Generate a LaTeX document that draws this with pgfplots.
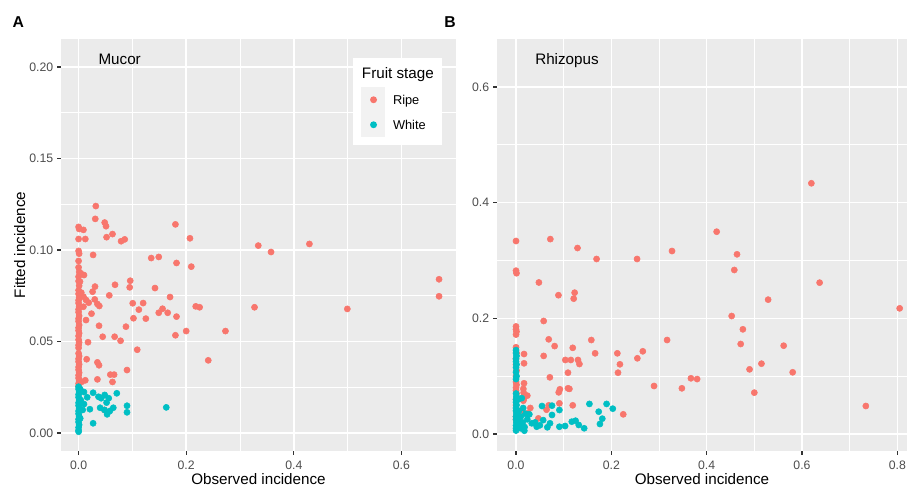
\documentclass[border=0pt]{standalone}
\usepackage{fontspec}
\setmainfont{Liberation Sans}
\usepackage{pgfplots}
\pgfplotsset{compat=1.18}
\definecolor{ripe}{HTML}{F8766D}
\definecolor{whitec}{HTML}{00BFC4}
\definecolor{panelbg}{HTML}{EBEBEB}
\definecolor{keybg}{HTML}{F2F2F2}
\definecolor{tickc}{HTML}{333333}
\definecolor{labc}{HTML}{4D4D4D}
\pgfplotsset{ggstyle/.style={
  scale only axis, height=309pt,
  axis background/.style={fill=panelbg},
  axis line style={draw=none},
  xmajorgrids, ymajorgrids, xminorgrids, yminorgrids,
  major grid style={white, line width=1.1pt},
  minor grid style={white, line width=0.55pt},
  tick align=outside, xtick pos=bottom, ytick pos=left,
  major tick length=2.85pt, minor tick length=0pt,
  major tick style={tickc, line width=1pt},
  tick label style={font=\fontsize{9.2}{11}\selectfont, text=labc, inner sep=0pt},
  yticklabel style={xshift=-2.8pt},
  xticklabel style={yshift=-4.5pt},
  label style={font=\fontsize{11.4}{13}\selectfont},
  clip mode=individual,
}}
\begin{document}
\begin{tikzpicture}
\useasboundingbox (0,0) rectangle (681.75pt,364.5pt);
\begin{axis}[ggstyle, at={(45.75pt,26.25pt)}, anchor=south west, width=296.25pt,
  xmin=-0.0327, xmax=0.7015, ymin=-0.00984, ymax=0.2153,
  xtick={0,0.2,0.4,0.6}, xticklabels={0.0,0.2,0.4,0.6},
  minor xtick={0.1,0.3,0.5},
  ytick={0,0.05,0.1,0.15,0.2}, yticklabels={0.00,0.05,0.10,0.15,0.20},
  minor ytick={0.025,0.075,0.125,0.175},
  xlabel={Observed incidence}, ylabel={Fitted incidence},
  xlabel style={at={(axis description cs:0.5,-0.0801)}, anchor=base},
  ylabel style={at={(axis description cs:-0.0911,0.5)}, anchor=base},
  legend style={at={(axis description cs:0.7595,0.8835)}, anchor=north west,
    draw=none, fill=none, inner sep=0pt, row sep=0pt,
    nodes={inner sep=0pt, text depth=0pt},
    font=\fontsize{9.6}{11}\selectfont},
  legend cell align=left,
]
\addplot[only marks, color=ripe, mark=*, mark size=2.3pt, mark options={fill=ripe, draw=ripe, line width=0.4pt},
  legend image code/.code={\fill[keybg, draw=none] (0pt,-9.375pt) rectangle (18pt,9.375pt);
    \fill[ripe, draw=none] (9.2pt,0pt) circle (2.6pt); \path[draw=none, fill=none] (18pt,0pt) rectangle (23.8pt,0.1pt);}]
coordinates {
(0,0.1126)(0.001,0.1115)(0,0.106)(0,0.0995)(0.001,0.098)(0,0.094)(0,0.0905)(0.001,0.088)(0,0.0854)(0,0.083)(0.001,0.0805)(0,0.078)(0,0.076)(0.001,0.074)(0,0.0725)(0,0.071)(0.001,0.069)(0,0.0675)(0,0.066)(0.001,0.064)(0,0.0625)(0,0.061)(0.001,0.059)(0,0.0575)(0,0.056)(0.001,0.0545)(0,0.053)(0,0.051)(0.001,0.0495)(0,0.048)(0,0.0465)(0,0.0435)(0.001,0.042)(0,0.0405)(0,0.039)(0.001,0.0375)(0,0.036)(0,0.0345)(0.001,0.033)(0,0.0315)(0,0.030)(0.001,0.0285)(0,0.027)(0,0.0255)
(0.032,0.124)(0.031,0.117)(0.0485,0.115)(0.051,0.113)(0.180,0.114)(0.009,0.111)(0.0125,0.106)(0.052,0.107)(0.063,0.1087)(0.079,0.1048)(0.0857,0.1058)(0.207,0.1064)(0.027,0.0973)(0.135,0.0956)(0.149,0.0962)(0.182,0.0929)(0.2095,0.0909)(0.004,0.0873)(0.01,0.0863)(0.0026,0.0827)(0.096,0.0832)(0.095,0.0796)(0.0305,0.080)(0.0677,0.081)(0.142,0.0792)(0.026,0.0772)(0.005,0.0767)(0.009,0.0745)(0.057,0.0752)(0.170,0.0743)(0.0138,0.0727)(0.0188,0.0712)(0.030,0.073)(0.035,0.0705)(0.0385,0.0694)(0.009,0.069)(0.1006,0.0709)(0.120,0.071)(0.112,0.0674)(0.156,0.0679)(0.1656,0.0657)(0.149,0.0657)(0.2177,0.0692)(0.225,0.0687)(0.024,0.0652)(0.182,0.0636)(0.102,0.0627)(0.125,0.0625)(0.0138,0.0617)(0.038,0.0586)(0.088,0.0581)(0.0448,0.0526)(0.067,0.0526)(0.078,0.0504)(0.180,0.0534)(0.200,0.0557)(0.273,0.0557)(0.0175,0.0496)(0.109,0.0455)(0.241,0.0397)(0.015,0.0403)(0.035,0.0386)(0.038,0.037)(0.090,0.0344)(0.059,0.0319)(0.066,0.0319)(0.035,0.0293)(0.063,0.0279)(0.0125,0.0288)(0.006,0.028)(0.048,0.0126)(0.334,0.1024)(0.3577,0.0989)(0.429,0.1033)(0.327,0.0687)(0.4995,0.0678)(0.670,0.084)(0.670,0.0747)
};
\addlegendentry{Ripe}
\addplot[only marks, color=whitec, mark=*, mark size=2.3pt, mark options={fill=whitec, draw=whitec, line width=0.4pt},
  legend image code/.code={\fill[keybg, draw=none] (0pt,-9.375pt) rectangle (18pt,9.375pt);
    \fill[whitec, draw=none] (9.2pt,0pt) circle (2.6pt); \path[draw=none, fill=none] (18pt,0pt) rectangle (23.8pt,0.1pt);}]
coordinates {
(0,0.0253)(0,0.024)(0.001,0.0225)(0,0.021)(0,0.0195)(0.001,0.018)(0,0.0165)(0,0.015)(0.001,0.0135)(0,0.012)(0,0.0105)(0.001,0.009)(0,0.0075)(0,0.006)(0.001,0.0045)(0,0.003)(0,0.0015)(0,0.0007)(0.003,0.024)(0.004,0.018)(0.003,0.008)
(0.010,0.0224)(0.016,0.0195)(0.027,0.022)(0.037,0.0198)(0.0485,0.0208)(0.042,0.019)(0.056,0.019)(0.071,0.0217)(0.052,0.0166)(0.040,0.0138)(0.0645,0.0138)(0.048,0.0126)(0.058,0.012)(0.053,0.0102)(0.010,0.0158)(0.021,0.013)(0.0076,0.0126)(0.090,0.0149)(0.090,0.0113)(0.163,0.014)(0.027,0.0053)
};
\addlegendentry{White}
\fill[white] (rel axis cs:0.7392,0.7427) rectangle (rel axis cs:0.9646,0.9539);
\node[anchor=base west, inner sep=0pt, font=\fontsize{11.4}{13}\selectfont] at (rel axis cs:0.7613,0.9053) {Fruit stage};
\node[anchor=base west, inner sep=0pt, font=\fontsize{11.4}{13}\selectfont] at (rel axis cs:0.0944,0.9369) {Mucor};
\end{axis}
\begin{axis}[ggstyle, at={(372.75pt,26.25pt)}, anchor=south west, width=307.5pt,
  xmin=-0.0399, xmax=0.8204, ymin=-0.0294, ymax=0.683,
  xtick={0,0.2,0.4,0.6,0.8}, xticklabels={0.0,0.2,0.4,0.6,0.8},
  minor xtick={0.1,0.3,0.5,0.7},
  ytick={0,0.2,0.4,0.6}, yticklabels={0.0,0.2,0.4,0.6},
  minor ytick={0.1,0.3,0.5},
  xlabel={Observed incidence},
  xlabel style={at={(axis description cs:0.5,-0.0801)}, anchor=base},
]
\addplot[only marks, color=ripe, mark=*, mark size=2.3pt, mark options={fill=ripe, draw=ripe, line width=0.4pt}]
coordinates {
(0,0.3337)(0,0.2824)(0.001,0.278)(0,0.186)(0,0.181)(0.001,0.177)(0,0.172)(0,0.15)(0.001,0.14)(0,0.13)(0,0.12)(0.001,0.11)(0,0.10)(0,0.09)(0.001,0.085)(0,0.08)(0,0.075)(0.001,0.07)(0,0.06)(0,0.05)(0.001,0.04)(0,0.03)(0,0.025)
(0.072,0.337)(0.129,0.3216)(0.169,0.3026)(0.254,0.3026)(0.048,0.262)(0.089,0.240)(0.123,0.2444)(0.121,0.234)(0.058,0.1954)(0.0686,0.1637)(0.081,0.152)(0.119,0.149)(0.158,0.1625)(0.166,0.1395)(0.2126,0.1395)(0.218,0.1205)(0.214,0.106)(0.2546,0.1309)(0.266,0.143)(0.317,0.1625)(0.2896,0.083)(0.0168,0.1383)(0.0168,0.1222)(0.058,0.135)(0.1035,0.128)(0.115,0.128)(0.130,0.128)(0.133,0.121)(0.109,0.106)(0.071,0.098)(0.0168,0.0877)(0.0154,0.078)(0.0237,0.0663)(0.0154,0.0576)(0.092,0.0773)(0.0896,0.072)(0.109,0.079)(0.112,0.078)(0.091,0.053)(0.119,0.0496)(0.0686,0.0496)(0.064,0.042)(0.225,0.034)(0.047,0.027)
(0.6197,0.4335)(0.421,0.3498)(0.3273,0.3164)(0.4637,0.3107)(0.458,0.2836)(0.637,0.2617)(0.529,0.2323)(0.805,0.2173)(0.4525,0.204)(0.476,0.181)(0.4714,0.1556)(0.5616,0.1527)(0.515,0.1216)(0.490,0.1118)(0.5805,0.1067)(0.367,0.0963)(0.380,0.095)(0.348,0.079)(0.500,0.0715)(0.734,0.0484)
(0.016,0.0714)(0.016,0.06)(0.03,0.045)(0.025,0.036)(0.012,0.04)
};
\addplot[only marks, color=whitec, mark=*, mark size=2.3pt, mark options={fill=whitec, draw=whitec, line width=0.4pt}]
coordinates {
(0,0.145)(0,0.14)(0.001,0.135)(0,0.13)(0,0.125)(0.001,0.12)(0,0.115)(0,0.107)(0.001,0.1)(0,0.095)(0,0.07)(0.001,0.065)(0,0.06)(0,0.055)(0.001,0.05)(0,0.045)(0,0.04)(0.001,0.035)(0,0.03)(0,0.025)(0.001,0.02)(0,0.015)(0,0.01)(0,0.006)
(0.005,0.06)(0.006,0.04)(0.004,0.025)(0.008,0.015)(0.012,0.062)(0.01,0.03)(0.008,0.018)(0.009,0.01)(0.015,0.045)(0.02,0.035)(0.014,0.02)(0.018,0.012)
(0.0545,0.0484)(0.0755,0.049)(0.0755,0.0329)(0.091,0.0415)(0.154,0.052)(0.190,0.052)(0.203,0.0438)(0.1735,0.0386)(0.181,0.0265)(0.176,0.0173)(0.028,0.034)(0.0237,0.0254)(0.033,0.0185)(0.0434,0.0126)(0.057,0.024)(0.0657,0.0116)(0.0713,0.0185)(0.091,0.0126)(0.103,0.0138)(0.117,0.0213)(0.125,0.023)(0.1316,0.0156)(0.143,0.0099)(0.0175,0.0057)(0.04,0.02)(0.05,0.015)
};
\node[anchor=base west, inner sep=0pt, font=\fontsize{11.4}{13}\selectfont] at (rel axis cs:0.0927,0.9369) {Rhizopus};
\end{axis}
\node[anchor=base west, inner sep=0pt, font=\fontsize{11.8}{14}\selectfont\bfseries] at (9.2pt,344pt) {A};
\node[anchor=base west, inner sep=0pt, font=\fontsize{11.8}{14}\selectfont\bfseries] at (333pt,344pt) {B};
\end{tikzpicture}
\end{document}
